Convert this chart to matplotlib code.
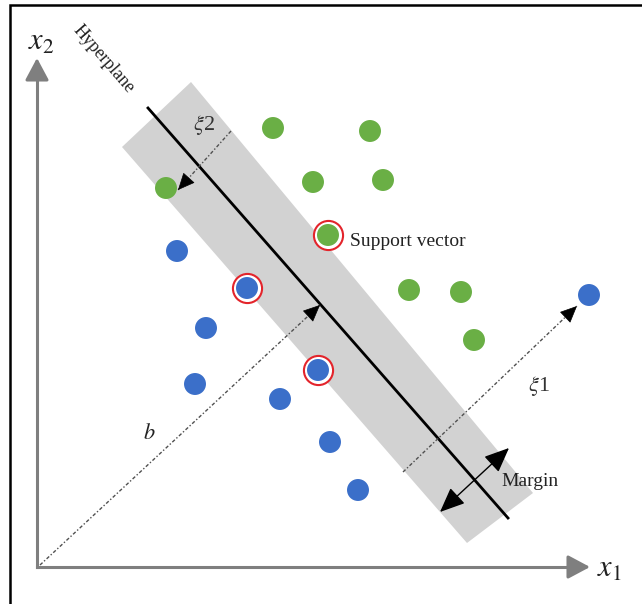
import matplotlib.pyplot as plt
from matplotlib.patches import Polygon

plt.rcParams['font.family'] = ['Liberation Serif', 'DejaVu Serif']
plt.rcParams['mathtext.fontset'] = 'stix'

# Datos (coordenadas en pixeles de la imagen)
green_x = [273, 370, 313, 383, 166, 328, 409, 461, 474]
green_y = [128, 131, 182, 180, 188, 235, 290, 292, 340]
blue_x = [177, 247, 206, 195, 280, 318, 330, 358, 589]
blue_y = [251, 288, 328, 384, 399, 370, 442, 490, 295]
support_x = [328, 247, 318]
support_y = [235, 288, 370]

band_corners = [(191, 82), (122, 147), (467, 543), (533, 493)]
hyperplane_x = [148, 508]
hyperplane_y = [108, 518]
origin = (37, 567)
x_axis_end = (590, 567)
y_axis_end = (37, 58)

# flechas punteadas: (inicio, punta)
dotted_arrows = {
    'xi2': ((231, 131), (178, 190)),
    'b': ((40, 565), (320, 305)),
    'xi1': ((403, 472), (577, 306)),
}
margin_arrow = ((440, 512), (509, 448))

green = '#6aaf45'
blue = '#3b6fc9'
red = '#e3242b'
axis_gray = '#7f7f7f'

fig = plt.figure(figsize=(6.42, 6.04), dpi=100)
ax = fig.add_axes([0, 0, 1, 1])
ax.set_xlim(0, 642)
ax.set_ylim(604, 0)
ax.axis('off')

# marco
ax.plot([10, 10, 642], [604, 5, 5], color='black', lw=1.8, solid_joinstyle='miter')

# banda del margen
ax.add_patch(Polygon(band_corners, closed=True, facecolor='#d2d2d2', edgecolor='none', zorder=1))
ax.plot(hyperplane_x, hyperplane_y, color='black', lw=2.0, zorder=2)

# ejes
ax.plot([origin[0], origin[0]], [origin[1], y_axis_end[1] + 15], color=axis_gray, lw=2.2, zorder=2)
ax.plot([origin[0], x_axis_end[0] - 15], [origin[1], origin[1]], color=axis_gray, lw=2.2, zorder=2)
for end in [x_axis_end, y_axis_end]:
    start = (end[0] - 20, end[1]) if end[1] == origin[1] else (end[0], end[1] + 20)
    ax.annotate('', xy=end, xytext=start,
                arrowprops=dict(arrowstyle='-|>,head_length=1.35,head_width=0.72',
                                mutation_scale=10, color=axis_gray, lw=2.2,
                                shrinkA=0, shrinkB=0), zorder=3)

# flechas punteadas
for (x0, y0), (x1, y1) in dotted_arrows.values():
    ax.plot([x0, x1], [y0, y1], color='#505050', lw=1.0, ls=(0, (2.5, 1.5, 1, 1.5)), zorder=3)
    dx, dy = x1 - x0, y1 - y0
    n = (dx ** 2 + dy ** 2) ** 0.5
    ax.annotate('', xy=(x1, y1), xytext=(x1 - dx / n * 14, y1 - dy / n * 14),
                arrowprops=dict(arrowstyle='-|>,head_length=1.0,head_width=0.45',
                                mutation_scale=11, color='black', lw=0.5,
                                shrinkA=0, shrinkB=0), zorder=4)

# flecha del margen
ax.annotate('', xy=margin_arrow[1], xytext=margin_arrow[0],
            arrowprops=dict(arrowstyle='<|-|>,head_length=1.4,head_width=0.6',
                            mutation_scale=11, color='black', lw=1.0,
                            shrinkA=0, shrinkB=0), zorder=4)

# vectores de soporte
ax.scatter(support_x, support_y, s=440, facecolor='white', edgecolor=red, lw=1.5, zorder=5)
ax.scatter(green_x, green_y, s=250, color=green, edgecolor='none', zorder=6)
ax.scatter(blue_x, blue_y, s=250, color=blue, edgecolor='none', zorder=6)

# textos
ax.text(41, 42, '$x_2$', fontsize=22, ha='center', va='center', color='#222222')
ax.text(609, 569, '$x_1$', fontsize=22, ha='center', va='center', color='#222222')
ax.text(104, 59, 'Hyperplane', fontsize=13, rotation=-49, rotation_mode='anchor',
        ha='center', va='center', color='#222222')
ax.text(204, 125, r'$\xi$2', fontsize=16, ha='center', va='center', color='#333333')
ax.text(539, 386, r'$\xi$1', fontsize=16, ha='center', va='center', color='#333333')
ax.text(149, 434, '$b$', fontsize=16, ha='center', va='center', color='#222222')
ax.text(350, 242, 'Support vector', fontsize=14, ha='left', va='center', color='#222222')
ax.text(530, 481, 'Margin', fontsize=14, ha='center', va='center', color='#222222')

plt.savefig('out.png', dpi=100)
plt.close()
